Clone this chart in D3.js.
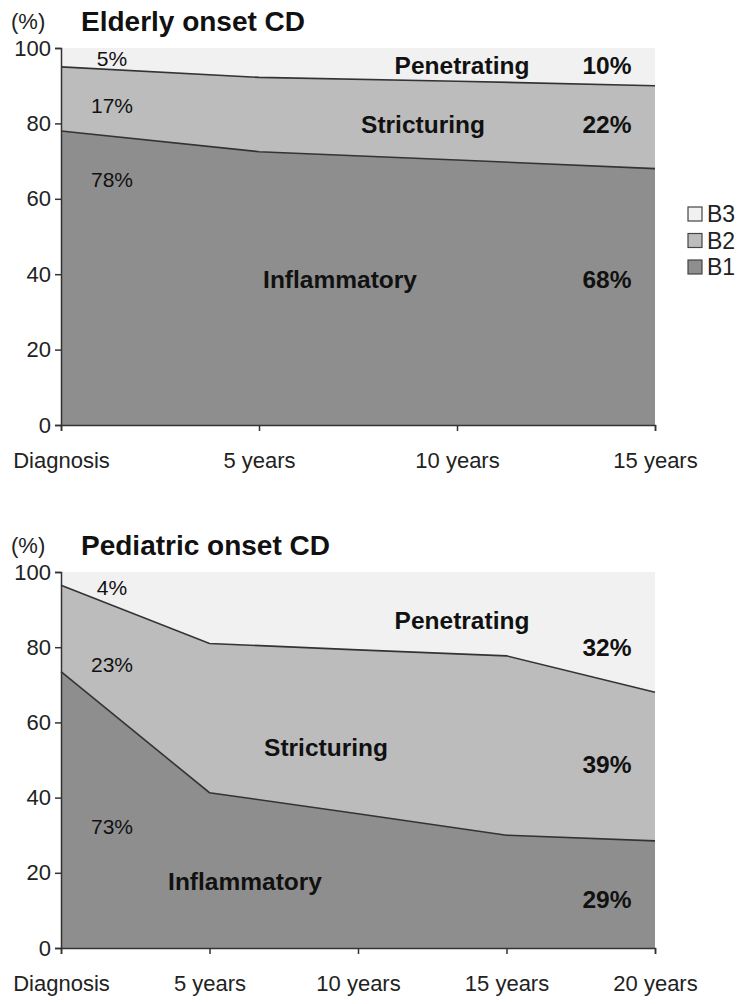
<!DOCTYPE html>
<html><head><meta charset="utf-8">
<script src="https://cdn.jsdelivr.net/npm/d3@7"></script>
<style>
body{margin:0;background:#fff;}
svg{display:block;font-family:"Liberation Sans",Arial,Helvetica,sans-serif;}
</style></head>
<body><svg id="c" width="749" height="1004"></svg>
<script>
// ---- Data ----
const elderlyCategories = ["Diagnosis","5 years","10 years","15 years"];
const elderlyB1 = [78, 72.5, 70.3, 68];
const elderlyB2 = [17, 19.7, 20.9, 22];
const elderlyB3 = [5, 7.8, 8.8, 10];

const pediatricCategories = ["Diagnosis","5 years","10 years","15 years","20 years"];
const pediatricB1 = [73.5, 41.3, 35.7, 30, 28.5];
const pediatricB2 = [23, 39.7, 43.6, 47.7, 39.5];
const pediatricB3 = [3.5, 19, 20.7, 22.3, 32];

const yTicks = [0,20,40,60,80,100];
const legendLabels = ["B3","B2","B1"];
const colors = {B1:"#8e8e8e", B2:"#bcbcbc", B3:"#f1f1f1"};
const lineColor = "#333";

const svg = d3.select("#c");

function drawPanel(opt){
  const {cats,b1,b2,b3,x0,x1,yBottom,yTop,title,titleY,labels} = opt;
  const x = d3.scalePoint().domain(cats).range([x0,x1]);
  const y = d3.scaleLinear().domain([0,100]).range([yBottom,yTop]);
  const rows = cats.map((c,i)=>({cat:c,B1:b1[i],B2:b2[i],B3:b3[i]}));
  const stack = d3.stack().keys(["B1","B2","B3"])(rows);
  const g = svg.append("g");
  const area = d3.area().x(d=>x(d.data.cat)).y0(d=>y(d[0])).y1(d=>y(d[1]));
  g.selectAll("path.a").data(stack).join("path")
    .attr("fill",d=>colors[d.key]).attr("d",area);
  const line = d3.line().x(d=>x(d.data.cat)).y(d=>y(d[1]));
  g.selectAll("path.l").data(stack.slice(0,2)).join("path")
    .attr("fill","none").attr("stroke",lineColor).attr("stroke-width",1.6).attr("d",line);

  // axes
  const ya = g.append("g").attr("transform",`translate(${x0},0)`)
    .call(d3.axisLeft(y).tickValues(yTicks).tickSize(6).tickPadding(4));
  ya.select(".domain").attr("stroke",lineColor).attr("stroke-width",1.5);
  ya.selectAll(".tick line").attr("stroke",lineColor).attr("stroke-width",1.5);
  ya.selectAll(".tick text").attr("font-size",22).attr("fill","#222")
    .attr("font-family","Liberation Sans, Arial, sans-serif");
  const xa = g.append("g").attr("transform",`translate(0,${yBottom})`)
    .call(d3.axisBottom(x).tickSize(6).tickPadding(21));
  xa.select(".domain").attr("stroke",lineColor).attr("stroke-width",1.5);
  xa.selectAll(".tick line").attr("stroke",lineColor).attr("stroke-width",1.5);
  xa.selectAll(".tick text").attr("font-size",22).attr("fill","#222")
    .attr("font-family","Liberation Sans, Arial, sans-serif");

  g.append("text").attr("x",11).attr("y",titleY-2).attr("font-size",22).attr("fill","#222").text("(%)");
  g.append("text").attr("x",81).attr("y",titleY).attr("font-size",28).attr("font-weight","bold").attr("fill","#111").text(title);

  labels.forEach(l=>{
    g.append("text").attr("x",l.x).attr("y",l.y).attr("text-anchor","middle")
      .attr("font-size",l.bold?24.5:21).attr("font-weight",l.bold?"bold":"normal")
      .attr("fill","#111").text(l.t);
  });
}

drawPanel({cats:elderlyCategories,b1:elderlyB1,b2:elderlyB2,b3:elderlyB3,
  x0:61,x1:655,yBottom:425,yTop:48,title:"Elderly onset CD",titleY:31,
  labels:[
    {t:"5%",x:112,y:66},{t:"17%",x:112,y:113},{t:"78%",x:112,y:187},
    {t:"Penetrating",x:462,y:74,bold:1},{t:elderlyB3[3]+"%",x:607,y:74,bold:1},
    {t:"Stricturing",x:423,y:133,bold:1},{t:elderlyB2[3]+"%",x:607,y:133,bold:1},
    {t:"Inflammatory",x:340,y:288,bold:1},{t:elderlyB1[3]+"%",x:607,y:288,bold:1}
  ]});

drawPanel({cats:pediatricCategories,b1:pediatricB1,b2:pediatricB2,b3:pediatricB3,
  x0:61,x1:655,yBottom:948,yTop:572,title:"Pediatric onset CD",titleY:555,
  labels:[
    {t:"4%",x:112,y:595},{t:"23%",x:112,y:672},{t:"73%",x:112,y:834},
    {t:"Penetrating",x:462,y:629,bold:1},{t:"32%",x:607,y:656,bold:1},
    {t:"Stricturing",x:326,y:756,bold:1},{t:"39%",x:607,y:773,bold:1},
    {t:"Inflammatory",x:245,y:890,bold:1},{t:"29%",x:607,y:908,bold:1}
  ]});

// legend
const lg = svg.append("g");
legendLabels.forEach((k,i)=>{
  lg.append("rect").attr("x",688).attr("y",207+i*26.5).attr("width",14).attr("height",14)
    .attr("fill",colors[k]).attr("stroke","#444").attr("stroke-width",1.2);
  lg.append("text").attr("x",707).attr("y",222+i*26.5).attr("font-size",23).attr("fill","#222").text(k);
});
</script></body></html>
